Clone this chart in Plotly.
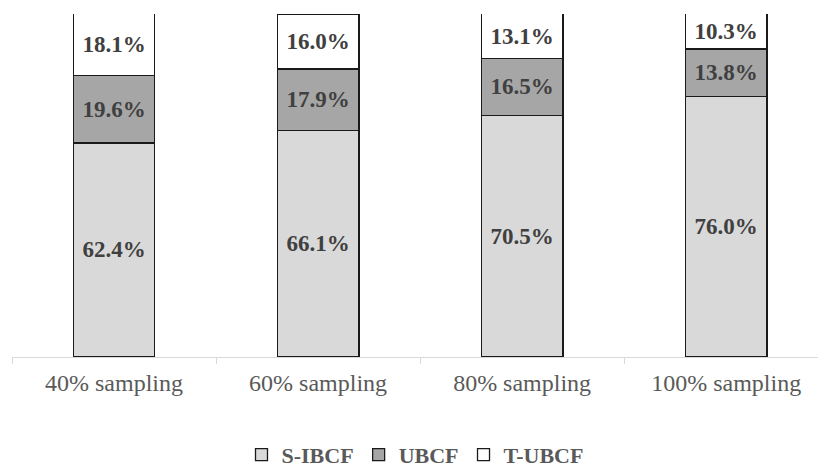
import plotly.graph_objects as go

categories = ["40% sampling", "60% sampling", "80% sampling", "100% sampling"]
s_ibcf = [62.4, 66.1, 70.5, 76.0]
ubcf = [19.6, 17.9, 16.5, 13.8]
t_ubcf = [18.1, 16.0, 13.1, 10.3]

series = [
    ("S-IBCF", s_ibcf, "#d9d9d9"),
    ("UBCF", ubcf, "#a6a6a6"),
    ("T-UBCF", t_ubcf, "#ffffff"),
]

serif = "Liberation Serif"

fig = go.Figure()
for name, vals, color in series:
    fig.add_trace(go.Bar(
        name=name,
        x=categories,
        y=vals,
        width=0.4,
        marker=dict(color=color, line=dict(color="#1a1a1a", width=1.3)),
        text=[f"{v:.1f}%" for v in vals],
        textposition="inside",
        insidetextanchor="middle",
        textangle=0,
        constraintext="none",
        textfont=dict(family=serif, size=23, color="#404040", weight="bold"),
    ))

fig.update_layout(
    barmode="stack",
    width=818,
    height=470,
    margin=dict(l=12, r=0, t=14, b=113, autoexpand=False),
    paper_bgcolor="white",
    plot_bgcolor="white",
    showlegend=True,
    legend=dict(
        orientation="h",
        x=0.5, xanchor="center",
        y=-0.285, yanchor="middle",
        font=dict(family=serif, size=22, color="#595959", weight="bold"),
        itemwidth=30,
        traceorder="normal",
    ),
    xaxis=dict(
        type="category",
        range=[-0.5, 3.45],
        showline=True,
        linecolor="#d9d9d9",
        linewidth=1,
        ticks="outside",
        tickson="boundaries",
        ticklen=6,
        tickcolor="#d9d9d9",
        ticklabelstandoff=4,
        showgrid=False,
        tickfont=dict(family=serif, size=24, color="#595959"),
        fixedrange=True,
    ),
    yaxis=dict(
        range=[0, 100],
        visible=False,
        showgrid=False,
        fixedrange=True,
    ),
)

fig.write_html("out.html")
